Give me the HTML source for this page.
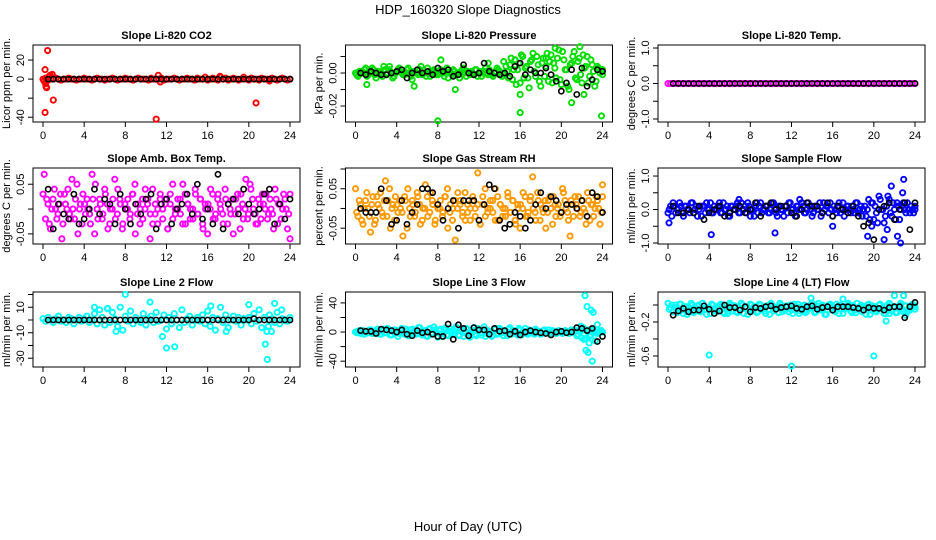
<!DOCTYPE html>
<html><head><meta charset="utf-8"><style>
body{margin:0;background:#fff;}
svg{display:block;font-family:"Liberation Sans",sans-serif;}
</style></head><body>
<svg id="chart" width="936" height="540" viewBox="0 0 936 540">
<text x="468" y="14" text-anchor="middle" font-size="13">HDP_160320  Slope Diagnostics</text>
<text x="468" y="531" text-anchor="middle" font-size="13">Hour of Day (UTC)</text>
</svg>
<script>
// ---- data ----
const xTicks=[0,4,8,12,16,20,24];
const co2A=[0,1,-1,0,0,1,0,-1,0,0,1,0,0,-1,0,0,1,0,0,-1,0,1,0,0,-1,0,0,1,0,-1,0,0,1,0,0,-1,0,1,0,0,0,-1,1,0,0,0,1,-1,0,0,0,1,0,-1,0,0,1,0,0,-1,1,0,0,2,-1,0,1,0,-1,2,0,1,-1,0,1,0,-1,0,2,0,-1,1,0,0,-1,1,0,0,-2,1,0,-1,0,1,0,-1,0];
const co2ExX=[0.1,0.2,0.25,0.2,0.3,0.45,0.7,0.9,1.0,11.0,11.2,11.4,17.2,20.7,0.6,0.35];
const co2ExY=[-2,10,-5,-35,-8,30,4,5,-22,-42,4,-3,3,-25,3,-9];
const co2Black=[0,0,0,0,0,0,0,0,0,0,0,0,0,0,0,0,0,0,0,0,0,0,0,0,0,0,0,0,0,0,0,0,0,0,0,0,0,0,0,0,0,0,0,0,0,0,0,0];
const presA=[0,-2,1,0,3,-1,0,2,-3,1,0,4,-1,2,0,-2,1,3,0,-1,2,0,-4,1,0,2,-1,0,3,-2,1,0,-1,2,0,1,-3,0,2,-1,0,1,3,-2,0,1,-1,2,0,-2,1,0,2,-1,0,3,1,-2,0,1,5,-4,8,2,-6,10,3,-3,7,12,-2,5,-8,9,4,-5,11,6,-3,14,-7,8,2,-10,6,13,-4,9,-6,3,10,-2,5,-8,4,0,2];
const presB=[-1,1,0,2,-2,0,3,-1,1,0,-2,2,0,1,-3,0,2,1,-1,0,3,-2,1,0,-1,4,0,-2,1,0,2,-1,0,1,-2,3,0,-1,1,0,-3,2,0,1,-1,0,2,-2,1,0,3,-1,0,-2,1,2,-1,0,4,-3,9,2,-7,6,11,-3,4,-9,8,1,10,-5,6,-2,12,7,-6,3,9,-4,13,2,-8,5,10,-3,7,-1,11,4,-6,8,1,-5,3,2,-1];
const presExX=[8,8.3,9.7,5.7,16,16,19.4,21.8,21.0,22.2,23.9,18.5,14.4,12.9,15.5,1.1,3.3];
const presExY=[-0.029,0.008,-0.010,-0.008,-0.024,-0.013,0.015,0.016,-0.018,-0.013,-0.026,0.009,0.007,0.006,0.008,-0.007,0.004];
const presBlack=[0,-1,1,0,-1,-1,0,1,2,-3,0,2,0,1,-1,3,1,2,-2,-1,5,0,-1,0,6,1,0,-1,0,-2,4,6,-1,2,0,0,3,-1,-5,-11,-6,2,-13,3,-8,-4,2,1];
const tempA=[0,0,0,0,0,0,0,0,0,0,0,0,0,0,0,0,0,0,0,0,0,0,0,0,0,0,0,0,0,0,0,0,0,0,0,0,0,0,0,0,0,0,0,0,0,0,0,0,0,0,0,0,0,0,0,0,0,0,0,0,0,0,0,0,0,0,0,0,0,0,0,0,0,0,0,0,0,0,0,0,0,0,0,0,0,0,0,0,0,0,0,0,0,0,0,0,0];
const tempBlack=[0,0,0,0,0,0,0,0,0,0,0,0,0,0,0,0,0,0,0,0,0,0,0,0,0,0,0,0,0,0,0,0,0,0,0,0,0,0,0,0,0,0,0,0,0,0,0,0];
const ambA=[3,-2,1,-4,2,0,-1,3,-3,1,4,-2,0,2,-5,1,3,-1,0,-3,2,5,-2,1,-1,3,-4,0,2,-2,4,1,-3,0,2,-1,3,-5,1,0,-2,4,2,-1,-3,1,0,3,-2,2,-4,1,5,-1,0,2,-3,3,1,-2,0,4,-1,2,-3,1,-5,0,3,-2,2,1,-1,4,-3,0,2,-1,3,-4,1,0,-2,5,2,-1,-3,1,3,0,-2,2,-1,4,-3,1,0,2,-4,3];
const ambB=[7,2,-3,0,4,-2,1,-6,3,0,-1,6,-2,5,0,-3,1,2,-1,7,-5,0,2,-2,4,1,-3,0,6,-1,2,-4,1,0,-2,3,5,-1,-3,2,0,1,-6,4,-1,-3,2,0,1,-4,3,-2,0,2,-1,5,-3,1,0,-2,3,-1,2,-4,0,1,4,-2,-1,3,0,-3,2,1,-1,-5,2,0,3,-2,6,-1,4,0,-3,2,-2,1,3,-1,0,-4,2,1,-2,3,0,-1,-6];
const ambBlack=[4,-4,1,-1,-2,3,-3,-2,0,4,-1,2,1,-3,3,0,-3,1,-1,2,3,-4,1,2,-3,0,1,3,-1,5,-2,0,-3,7,-4,1,2,-1,4,1,-1,0,3,4,-3,1,-2,2];
const rhA=[5,-2,1,-4,2,0,-6,3,-3,1,4,-2,7,2,-5,1,3,-1,0,-7,2,5,-2,1,-1,3,-4,0,6,-2,4,1,-3,0,2,-1,3,-5,1,0,-8,4,2,-1,-3,1,0,3,-2,9,-4,1,5,-1,0,2,-3,3,1,-2,0,4,-1,2,-3,1,-5,0,3,-2,2,8,-1,4,-3,0,2,-1,3,-4,1,0,-2,5,2,-1,-7,1,3,0,-2,2,-1,4,-3,1,0,2,-4,3];
const rhB=[-1,2,-3,0,4,-2,1,-4,3,0,-1,2,-2,5,0,-3,1,2,-1,3,-5,0,2,-2,4,1,-3,0,3,-1,2,-4,1,0,-2,3,5,-1,-3,2,0,1,-2,4,-1,-3,2,0,1,-4,3,-2,0,2,-1,5,-3,1,0,-2,3,-1,2,-4,0,1,4,-2,-1,3,0,-3,2,1,-1,-5,2,0,3,-2,1,-1,4,0,-3,2,-2,1,3,-1,0,-4,2,1,-2,3,0,-1,6];
const rhBlack=[0,-1,-1,-1,5,2,-4,-3,2,-4,-1,1,5,5,4,1,-3,0,2,-5,2,2,2,-3,1,6,5,-3,-5,-4,-1,-2,-5,-3,1,4,0,3,2,-1,1,1,0,2,-2,4,3,-1];
const flowA=[-1,1,2,-1,0,1,-2,1,0,2,-1,1,0,-2,1,2,0,-1,1,0,2,-1,0,1,-2,1,0,2,-1,0,1,2,-2,0,1,-1,2,0,1,-1,0,2,-1,1,0,-2,1,2,0,-1,1,0,2,-1,0,1,-2,1,0,2,-1,0,1,2,-2,0,1,-1,2,0,1,-1,0,2,-1,1,0,-2,3,2,-3,-1,4,0,-4,1,3,-2,0,2,-3,1,0,2,-1,0,1];
const flowB=[0,-2,1,0,2,-1,1,0,-1,2,0,-2,1,1,-1,0,2,-1,0,1,-1,2,0,-2,1,0,1,-1,2,0,-1,1,0,-2,2,1,-1,0,1,-1,2,0,-2,1,0,1,-1,2,0,-2,1,0,1,-1,2,0,-1,1,0,-2,2,1,-1,0,1,-1,2,0,-2,1,0,1,-1,2,0,-2,1,0,-3,2,1,-4,3,0,-2,4,-1,2,-3,1,0,2,-1,0,1,-1,0];
const flowExX=[0.1,4.2,10.4,16,19.4,21,21.7,22.3,22.6,22.9,22.8,21.3,19.8,12.8,6.9];
const flowExY=[-0.4,-0.75,-0.7,-0.5,-0.8,-0.9,0.7,-0.8,-1.0,0.9,0.5,-0.6,-0.5,0.3,0.3];
const flowBlack=[1,-1,-1,0,-1,1,-3,-1,0,1,-2,-1,0,1,-1,0,2,-2,1,2,0,1,1,-1,-2,0,2,1,1,-1,2,-2,1,0,-1,1,-2,-5,-4,-9,0,1,2,-3,0,2,-6,2];
const l2A=[1,-1,2,0,-2,1,3,-1,0,-2,2,1,-3,0,2,-1,1,3,-2,0,5,-3,8,2,-4,9,-2,6,1,-5,10,-8,3,-1,7,-3,2,0,-2,5,-4,1,3,-2,6,-1,0,4,-7,2,-3,5,0,-6,8,-2,1,3,-4,0,2,-1,4,-3,7,-5,2,-8,1,10,-2,4,-6,0,3,-1,2,-4,1,0,2,-3,5,-1,8,-6,2,-9,4,1,-2,6,-3,1,0,-1,2];
const l2ExX=[8,10.4,12,12.8,11.6,20,21.6,21.8,22.5,16.3,5,6.3,7.1,17.8,18,23.2,21.9,22.2];
const l2ExY=[20,14,-22,-21,-13,12,-19,-31,13,11,10,9,-9,-9,-6,8,-5,-9];
const l2Black=[0,0,0,0,0,0,0,0,0,0,0,0,0,0,0,0,0,0,0,0,0,0,0,0,0,0,0,0,0,0,0,0,0,0,0,0,0,0,0,0,1,0,0,0,0,0,0,0];
const l3A=[0,1,-2,2,0,-1,3,-2,1,0,-3,4,-1,2,-4,3,0,-2,5,-3,1,-5,4,0,-2,6,-4,2,-6,5,-1,3,-7,4,-2,6,-5,1,-3,7,-4,2,-6,5,0,-3,6,-5,2,-4,7,-2,1,-6,4,-3,5,-1,2,-5,6,-2,0,-4,3,-1,5,-3,1,-2,4,0,-3,2,-1,3,-2,1,-2,2,0,-1,1,-2,3,0,-5,2,-8,4,1,-6,3,0,-2,1,0];
const l3B=[-1,2,0,-3,1,3,-2,0,4,-3,2,-1,5,-4,1,3,-6,2,-1,4,-5,3,0,-3,6,-2,1,-5,4,-3,7,-1,2,-6,3,-4,5,0,-2,6,-5,3,-1,4,-7,2,-3,5,-1,3,-6,2,0,-4,5,-2,3,-5,1,4,-3,2,-1,5,-4,1,-2,3,0,-3,2,1,-2,3,0,-1,2,-1,1,0,-2,2,1,-1,0,2,-3,1,6,-9,3,-4,2,0,-1,2,0];
const l3ExX=[22.3,22.5,22.9,23.1,22.4,22.6,23.0,22.2,22.7,23.5,23.3,21.9];
const l3ExY=[50,35,30,27,-25,-28,-40,-10,-15,10,-12,8];
const l3Black=[2,1,1,-2,4,3,2,0,3,-3,-5,2,-1,0,-3,-6,-6,11,-10,10,5,-5,6,3,3,-3,5,1,2,-3,1,-4,0,2,0,-1,-2,-4,0,1,-1,0,6,5,2,5,-13,-6];
const l4A=[2,-3,-8,0,-5,1,-10,-2,-6,2,-9,-4,0,-7,-1,-11,-3,1,-6,-8,-2,0,-10,-4,2,-7,-1,-9,-5,0,-3,-11,1,-6,-2,-8,0,-4,-10,-1,2,-7,-3,-9,0,-5,-1,-8,-6,1,-2,-10,-4,0,-7,-3,2,-9,-1,-5,0,-11,-6,1,-3,-8,-2,0,-10,-4,2,-7,-1,-9,-5,0,-3,-11,1,-6,-2,-8,0,-4,-10,-1,2,-7,-3,-9,0,-5,-1,-8,-6,1,-2];
const l4B=[-5,0,-3,-9,1,-6,-2,-11,-4,0,-7,-1,-8,2,-5,-3,-10,0,-6,-2,1,-9,-4,-7,0,-1,-8,-5,2,-10,-3,-6,0,-2,-9,1,-4,-7,-1,-11,0,-5,-3,2,-8,-6,-2,0,-10,-4,1,-7,-1,-9,-5,0,-3,-8,2,-6,-2,-11,0,-4,-7,1,-10,-1,-5,-3,0,-9,-6,2,-2,-8,-4,0,-11,-1,-7,-5,1,-3,-10,-6,0,-2,-9,-4,2,-8,-1,-7,-3,0,-5];
const l4ExX=[4,12,20,21.2,22,22.9,13.9,17,5.8,21.5,23.1];
const l4ExY=[-0.59,-0.72,-0.6,-0.19,0.11,0.11,0.08,0.07,-0.1,-0.1,-0.12];
const l4Black=[-12,-7,-4,-8,-6,-6,-1,-5,-10,-7,0,-3,-3,-6,-2,-8,-3,-4,-2,-1,-5,-3,-2,-1,-4,-5,-2,-1,-5,-3,-2,-6,-2,-2,-2,-3,-4,-6,-3,-4,-4,-6,-3,-2,-2,-15,-2,3];

const panels=[
 {name:"co2",title:"Slope Li-820 CO2",ylab:"Licor ppm per min.",col:0,row:0,ymin:-45,ymax:35.8,yt:[-40,-20,0,20],yl:["-40","","0","20"],color:"#ff0000",A:co2A,sA:1,B:null,sB:1,exX:co2ExX,exY:co2ExY,black:co2Black,sK:1},
 {name:"pressure",title:"Slope Li-820 Pressure",ylab:"kPa per min.",col:1,row:0,ymin:-0.0297,ymax:0.017,yt:[-0.02,-0.01,0,0.01],yl:["-0.02","","0.00",""],color:"#00dd00",A:presA,sA:0.001,B:presB,sB:0.001,exX:presExX,exY:presExY,black:presBlack,sK:0.001},
 {name:"temp",title:"Slope Li-820 Temp.",ylab:"degrees C per min.",col:2,row:0,ymin:-1.085,ymax:1.085,yt:[-1,-0.5,0,0.5,1],yl:["-1.0","","0.0","","1.0"],color:"#ff00ff",A:tempA,sA:1,B:null,sB:1,exX:[],exY:[],black:tempBlack,sK:1},
 {name:"amb-temp",title:"Slope Amb. Box Temp.",ylab:"degrees C per min.",col:0,row:1,ymin:-0.0704,ymax:0.0827,yt:[-0.05,0,0.05],yl:["-0.05","","0.05"],color:"#ff00ff",A:ambA,sA:0.01,B:ambB,sB:0.01,exX:[],exY:[],black:ambBlack,sK:0.01},
 {name:"gas-rh",title:"Slope Gas Stream RH",ylab:"percent per min.",col:1,row:1,ymin:-0.09,ymax:0.1025,yt:[-0.05,0,0.05,0.1],yl:["-0.05","","0.05",""],color:"#ff9900",A:rhA,sA:0.01,B:rhB,sB:0.01,exX:[],exY:[],black:rhBlack,sK:0.01},
 {name:"sample-flow",title:"Slope Sample Flow",ylab:"ml/min per min.",col:2,row:1,ymin:-1.03,ymax:1.24,yt:[-1,-0.5,0,0.5,1],yl:["-1.0","","0.0","","1.0"],color:"#0000ff",A:flowA,sA:0.1,B:flowB,sB:0.1,exX:flowExX,exY:flowExY,black:flowBlack,sK:0.1},
 {name:"line2-flow",title:"Slope Line 2 Flow",ylab:"ml/min per min.",col:0,row:2,ymin:-36.9,ymax:21.96,yt:[-30,-20,-10,0,10,20],yl:["-30","","-10","","10",""],color:"#00ffff",A:l2A,sA:1,B:null,sB:1,exX:l2ExX,exY:l2ExY,black:l2Black,sK:1},
 {name:"line3-flow",title:"Slope Line 3 Flow",ylab:"ml/min per min.",col:1,row:2,ymin:-48,ymax:55,yt:[-40,-20,0,20,40],yl:["-40","","0","","40"],color:"#00ffff",A:l3A,sA:1,B:l3B,sB:1,exX:l3ExX,exY:l3ExY,black:l3Black,sK:1},
 {name:"line4-flow",title:"Slope Line 4 (LT) Flow",ylab:"ml/min per min.",col:2,row:2,ymin:-0.73,ymax:0.153,yt:[-0.6,-0.4,-0.2,0],yl:["-0.6","","-0.2",""],color:"#00ffff",A:l4A,sA:0.01,B:l4B,sB:0.01,exX:l4ExX,exY:l4ExY,black:l4Black,sK:0.01}
];
// ---- layout ----
const colX=[33,345.5,658], rowY=[45,168,292], rowH=[77,76,75], W=267;
const NS="http://www.w3.org/2000/svg";
const svg=document.getElementById('chart');
function mk(tag,attrs,parent){const e=document.createElementNS(NS,tag);for(const k in attrs)e.setAttribute(k,attrs[k]);parent.appendChild(e);return e;}
panels.forEach(p=>{
  const bx=colX[p.col], by=rowY[p.row], bh=rowH[p.row];
  const g=mk('g',{},svg);
  
  
  const xs=h=>bx+10+h/24*(W-20);
  const ys=v=>by+bh-(v-p.ymin)/(p.ymax-p.ymin)*bh;
  const t=mk('text',{x:bx+W/2,y:by-6,'text-anchor':'middle','font-size':11,'font-weight':'bold'},g);
  t.textContent=p.title;
  
  
  const box=mk('rect',{x:bx,y:by,width:W,height:bh,fill:'none',stroke:'#000','stroke-width':1},g);
  
  
  xTicks.forEach(h=>{
    mk('line',{x1:xs(h),x2:xs(h),y1:by+bh,y2:by+bh+5,stroke:'#000'},g);
    const l=mk('text',{x:xs(h),y:by+bh+17,'text-anchor':'middle','font-size':11},g);
    l.textContent=h;
    
    
  });
  p.yt.forEach((v,i)=>{
    mk('line',{x1:bx-5,x2:bx,y1:ys(v),y2:ys(v),stroke:'#000'},g);
    if(p.yl[i]){
      const l=mk('text',{x:0,y:0,'text-anchor':'middle','font-size':11,transform:`translate(${bx-9},${ys(v)}) rotate(-90)`},g);
      l.textContent=p.yl[i];
      
      
    }
  });
  const yl=mk('text',{x:0,y:0,'text-anchor':'middle','font-size':11,transform:`translate(${bx-23},${by+bh/2}) rotate(-90)`},g);
  yl.textContent=p.ylab;
  
  
  function dot(h,v,color,nm,sw){
    const c=mk('circle',{cx:xs(h),cy:ys(v),r:2.6,fill:'none',stroke:color,'stroke-width':sw},g);
    
    
  }
  p.A.forEach((v,i)=>dot(i*24/(p.A.length-1),v*p.sA,p.color,'point',1.9));
  if(p.B) p.B.forEach((v,i)=>dot(Math.min(24,0.12+i*24/(p.B.length-1)),v*p.sB,p.color,'point',1.9));
  p.exX.forEach((h,i)=>dot(h,p.exY[i],p.color,'outlier-point',1.9));
  p.black.forEach((v,i)=>dot(0.5+i*23.5/(p.black.length-1),v*p.sK,'#000','reference-point',1.6));
});
</script>
</body></html>
